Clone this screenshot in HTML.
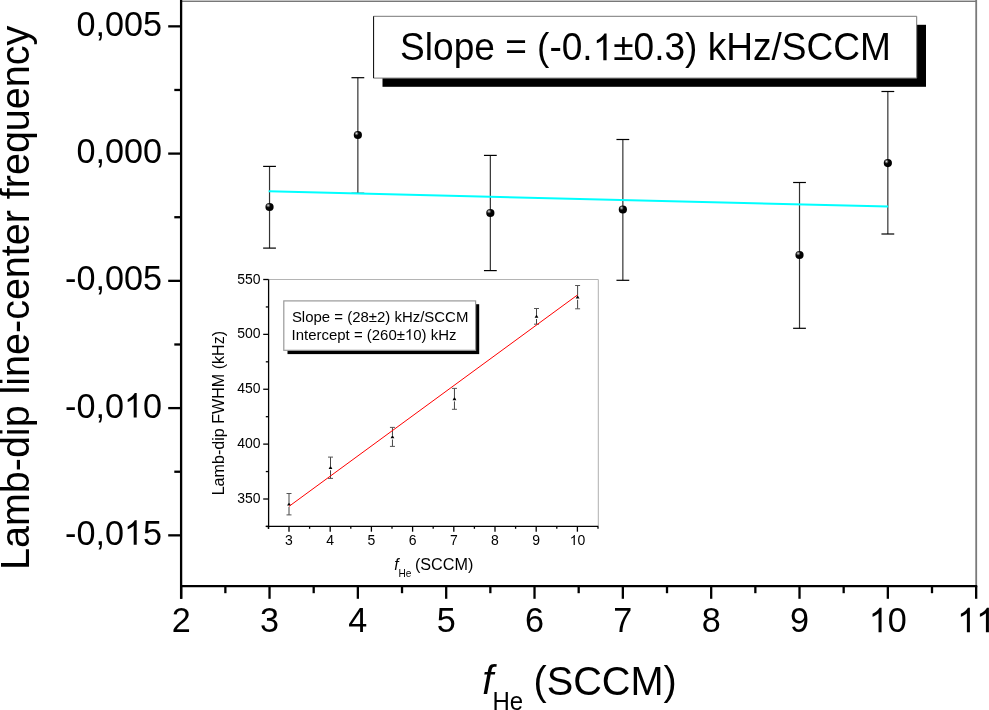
<!DOCTYPE html><html><head><meta charset="utf-8"><style>html,body{margin:0;padding:0;width:989px;height:710px;overflow:hidden;background:#fff;}svg{will-change:transform;} svg text{font-family:"Liberation Sans",sans-serif;font-kerning:none;font-variant-ligatures:none;}</style></head><body><svg width="989" height="710" viewBox="0 0 989 710" style="position:absolute;left:0;top:0" font-family='"Liberation Sans", sans-serif'>
<defs><radialGradient id="sph" cx="35%" cy="33%" r="60%" fx="33%" fy="30%"><stop offset="0" stop-color="#e8e8e8"/><stop offset="0.22" stop-color="#6a6a6a"/><stop offset="0.45" stop-color="#050505"/><stop offset="1" stop-color="#000"/></radialGradient></defs>
<rect x="0.00" y="0.00" width="989.00" height="710.00" fill="#fff" stroke="none" stroke-width="0"/>
<rect x="181.00" y="0.00" width="796.00" height="1.00" fill="#c4c4c4" stroke="none" stroke-width="0"/>
<rect x="181.00" y="1.00" width="796.00" height="1.00" fill="#787878" stroke="none" stroke-width="0"/>
<rect x="975.30" y="0.00" width="1.80" height="587.00" fill="#7a7a7a" stroke="none" stroke-width="0"/>
<line x1="269.53" y1="166.40" x2="269.53" y2="248.10" stroke="#333" stroke-width="1.2" />
<line x1="263.13" y1="166.40" x2="275.93" y2="166.40" stroke="#000" stroke-width="1.2" />
<line x1="263.13" y1="248.10" x2="275.93" y2="248.10" stroke="#000" stroke-width="1.2" />
<line x1="357.86" y1="77.70" x2="357.86" y2="193.30" stroke="#333" stroke-width="1.2" />
<line x1="351.46" y1="77.70" x2="364.26" y2="77.70" stroke="#000" stroke-width="1.2" />
<line x1="351.46" y1="193.30" x2="364.26" y2="193.30" stroke="#000" stroke-width="1.2" />
<line x1="490.35" y1="155.40" x2="490.35" y2="270.60" stroke="#333" stroke-width="1.2" />
<line x1="483.95" y1="155.40" x2="496.75" y2="155.40" stroke="#000" stroke-width="1.2" />
<line x1="483.95" y1="270.60" x2="496.75" y2="270.60" stroke="#000" stroke-width="1.2" />
<line x1="622.85" y1="139.50" x2="622.85" y2="280.30" stroke="#333" stroke-width="1.2" />
<line x1="616.45" y1="139.50" x2="629.25" y2="139.50" stroke="#000" stroke-width="1.2" />
<line x1="616.45" y1="280.30" x2="629.25" y2="280.30" stroke="#000" stroke-width="1.2" />
<line x1="799.51" y1="182.50" x2="799.51" y2="328.30" stroke="#333" stroke-width="1.2" />
<line x1="793.11" y1="182.50" x2="805.91" y2="182.50" stroke="#000" stroke-width="1.2" />
<line x1="793.11" y1="328.30" x2="805.91" y2="328.30" stroke="#000" stroke-width="1.2" />
<line x1="887.84" y1="91.50" x2="887.84" y2="234.00" stroke="#333" stroke-width="1.2" />
<line x1="881.44" y1="91.50" x2="894.24" y2="91.50" stroke="#000" stroke-width="1.2" />
<line x1="881.44" y1="234.00" x2="894.24" y2="234.00" stroke="#000" stroke-width="1.2" />
<circle cx="269.53" cy="207.00" r="4.1" fill="url(#sph)"/>
<circle cx="357.86" cy="135.00" r="4.1" fill="url(#sph)"/>
<circle cx="490.35" cy="213.00" r="4.1" fill="url(#sph)"/>
<circle cx="622.85" cy="209.50" r="4.1" fill="url(#sph)"/>
<circle cx="799.51" cy="255.00" r="4.1" fill="url(#sph)"/>
<circle cx="887.84" cy="163.10" r="4.1" fill="url(#sph)"/>
<line x1="268.60" y1="191.30" x2="888.20" y2="206.60" stroke="#00ffff" stroke-width="2.0" />
<line x1="181.10" y1="0.00" x2="181.10" y2="598.80" stroke="#000" stroke-width="2.3" />
<line x1="180.00" y1="586.10" x2="977.20" y2="586.10" stroke="#000" stroke-width="2.3" />
<line x1="168.20" y1="26.35" x2="181.00" y2="26.35" stroke="#000" stroke-width="2.3" />
<line x1="168.20" y1="153.60" x2="181.00" y2="153.60" stroke="#000" stroke-width="2.3" />
<line x1="168.20" y1="280.85" x2="181.00" y2="280.85" stroke="#000" stroke-width="2.3" />
<line x1="168.20" y1="408.10" x2="181.00" y2="408.10" stroke="#000" stroke-width="2.3" />
<line x1="168.20" y1="535.35" x2="181.00" y2="535.35" stroke="#000" stroke-width="2.3" />
<line x1="174.30" y1="89.97" x2="181.00" y2="89.97" stroke="#000" stroke-width="2.3" />
<line x1="174.30" y1="217.22" x2="181.00" y2="217.22" stroke="#000" stroke-width="2.3" />
<line x1="174.30" y1="344.48" x2="181.00" y2="344.48" stroke="#000" stroke-width="2.3" />
<line x1="174.30" y1="471.73" x2="181.00" y2="471.73" stroke="#000" stroke-width="2.3" />
<line x1="181.20" y1="586.00" x2="181.20" y2="598.80" stroke="#000" stroke-width="2.3" />
<line x1="269.53" y1="586.00" x2="269.53" y2="598.80" stroke="#000" stroke-width="2.3" />
<line x1="357.86" y1="586.00" x2="357.86" y2="598.80" stroke="#000" stroke-width="2.3" />
<line x1="446.19" y1="586.00" x2="446.19" y2="598.80" stroke="#000" stroke-width="2.3" />
<line x1="534.52" y1="586.00" x2="534.52" y2="598.80" stroke="#000" stroke-width="2.3" />
<line x1="622.85" y1="586.00" x2="622.85" y2="598.80" stroke="#000" stroke-width="2.3" />
<line x1="711.18" y1="586.00" x2="711.18" y2="598.80" stroke="#000" stroke-width="2.3" />
<line x1="799.51" y1="586.00" x2="799.51" y2="598.80" stroke="#000" stroke-width="2.3" />
<line x1="887.84" y1="586.00" x2="887.84" y2="598.80" stroke="#000" stroke-width="2.3" />
<line x1="976.17" y1="586.00" x2="976.17" y2="598.80" stroke="#000" stroke-width="2.3" />
<line x1="225.36" y1="586.00" x2="225.36" y2="593.20" stroke="#000" stroke-width="2.3" />
<line x1="313.69" y1="586.00" x2="313.69" y2="593.20" stroke="#000" stroke-width="2.3" />
<line x1="402.02" y1="586.00" x2="402.02" y2="593.20" stroke="#000" stroke-width="2.3" />
<line x1="490.35" y1="586.00" x2="490.35" y2="593.20" stroke="#000" stroke-width="2.3" />
<line x1="578.68" y1="586.00" x2="578.68" y2="593.20" stroke="#000" stroke-width="2.3" />
<line x1="667.01" y1="586.00" x2="667.01" y2="593.20" stroke="#000" stroke-width="2.3" />
<line x1="755.35" y1="586.00" x2="755.35" y2="593.20" stroke="#000" stroke-width="2.3" />
<line x1="843.67" y1="586.00" x2="843.67" y2="593.20" stroke="#000" stroke-width="2.3" />
<line x1="932.00" y1="586.00" x2="932.00" y2="593.20" stroke="#000" stroke-width="2.3" />
<text transform="translate(162.00,35.85) scale(1,1.03)" font-size="34.2" text-anchor="end" fill="#000" >0,005</text>
<text transform="translate(162.00,163.10) scale(1,1.03)" font-size="34.2" text-anchor="end" fill="#000" >0,000</text>
<text transform="translate(162.00,290.35) scale(1,1.03)" font-size="34.2" text-anchor="end" fill="#000" >-0,005</text>
<g transform="translate(162.00,417.60) scale(1,1.03)"><text font-size="34.2" text-anchor="end" fill="#000" >-0,0 0</text><path transform="translate(-38.041,0) scale(0.01670,-0.01621)" d="M763,0 L583,0 L583,1147 Q518,1085 412,1023 Q307,961 223,930 L223,1104 Q374,1175 486,1276 Q598,1377 645,1472 L763,1472 Z" fill="#000"/></g>
<g transform="translate(162.00,544.85) scale(1,1.03)"><text font-size="34.2" text-anchor="end" fill="#000" >-0,0 5</text><path transform="translate(-38.041,0) scale(0.01670,-0.01621)" d="M763,0 L583,0 L583,1147 Q518,1085 412,1023 Q307,961 223,930 L223,1104 Q374,1175 486,1276 Q598,1377 645,1472 L763,1472 Z" fill="#000"/></g>
<text transform="translate(181.20,632.30) scale(1,1.03)" font-size="34.2" text-anchor="middle" fill="#000" >2</text>
<text transform="translate(269.53,632.30) scale(1,1.03)" font-size="34.2" text-anchor="middle" fill="#000" >3</text>
<text transform="translate(357.86,632.30) scale(1,1.03)" font-size="34.2" text-anchor="middle" fill="#000" >4</text>
<text transform="translate(446.19,632.30) scale(1,1.03)" font-size="34.2" text-anchor="middle" fill="#000" >5</text>
<text transform="translate(534.52,632.30) scale(1,1.03)" font-size="34.2" text-anchor="middle" fill="#000" >6</text>
<text transform="translate(622.85,632.30) scale(1,1.03)" font-size="34.2" text-anchor="middle" fill="#000" >7</text>
<text transform="translate(711.18,632.30) scale(1,1.03)" font-size="34.2" text-anchor="middle" fill="#000" >8</text>
<text transform="translate(799.51,632.30) scale(1,1.03)" font-size="34.2" text-anchor="middle" fill="#000" >9</text>
<g transform="translate(887.84,632.30) scale(1,1.03)"><text font-size="34.2" text-anchor="middle" fill="#000" > 0</text><path transform="translate(-19.020,0) scale(0.01670,-0.01621)" d="M763,0 L583,0 L583,1147 Q518,1085 412,1023 Q307,961 223,930 L223,1104 Q374,1175 486,1276 Q598,1377 645,1472 L763,1472 Z" fill="#000"/></g>
<g transform="translate(976.17,632.30) scale(1,1.03)"><text font-size="34.2" text-anchor="middle" fill="#000" >  </text><path transform="translate(-19.020,0) scale(0.01670,-0.01621)" d="M763,0 L583,0 L583,1147 Q518,1085 412,1023 Q307,961 223,930 L223,1104 Q374,1175 486,1276 Q598,1377 645,1472 L763,1472 Z" fill="#000"/><path transform="translate(0.000,0) scale(0.01670,-0.01621)" d="M763,0 L583,0 L583,1147 Q518,1085 412,1023 Q307,961 223,930 L223,1104 Q374,1175 486,1276 Q598,1377 645,1472 L763,1472 Z" fill="#000"/></g>
<text transform="translate(29.10,570.00) rotate(-90) scale(1,1.02)" font-size="39.5" text-anchor="start" fill="#000" >Lamb-dip line-center frequency</text>
<text transform="translate(482.24,693.90)" font-size="40" text-anchor="start" font-style="italic" fill="#000" >f</text>
<text transform="translate(492.43,710.10) scale(1,1.04)" font-size="24" text-anchor="start" fill="#000" >He</text>
<text transform="translate(533.44,694.50) scale(1,1.04)" font-size="39.7" text-anchor="start" fill="#000" >(SCCM)</text>
<rect x="382.50" y="24.80" width="543.50" height="62.00" fill="#000" stroke="none" stroke-width="0"/>
<rect x="373.50" y="16.30" width="543.20" height="61.80" fill="#fff" stroke="none" stroke-width="0"/>
<line x1="373.50" y1="16.30" x2="916.70" y2="16.30" stroke="#777" stroke-width="1" />
<line x1="916.70" y1="16.30" x2="916.70" y2="78.10" stroke="#777" stroke-width="1" />
<line x1="373.50" y1="78.10" x2="916.70" y2="78.10" stroke="#777" stroke-width="1" />
<line x1="373.60" y1="16.30" x2="373.60" y2="78.10" stroke="#000" stroke-width="1" />
<g transform="translate(400.09,60.20) scale(1,1.04)"><text font-size="37.07" text-anchor="start" fill="#000" >Slope = (-0. ±0.3) kHz/SCCM</text><path transform="translate(192.663,0) scale(0.01810,-0.01740)" d="M763,0 L583,0 L583,1147 Q518,1085 412,1023 Q307,961 223,930 L223,1104 Q374,1175 486,1276 Q598,1377 645,1472 L763,1472 Z" fill="#000"/></g>
<rect x="268.60" y="279.50" width="329.60" height="246.90" fill="#fff" stroke="none" stroke-width="0"/>
<line x1="268.60" y1="279.50" x2="598.30" y2="279.50" stroke="#b4b4b4" stroke-width="1" />
<line x1="598.30" y1="279.50" x2="598.30" y2="526.40" stroke="#b0b0b0" stroke-width="1" />
<line x1="289.00" y1="493.50" x2="289.00" y2="502.70" stroke="#444" stroke-width="1" />
<line x1="289.00" y1="506.80" x2="289.00" y2="514.90" stroke="#444" stroke-width="1" />
<line x1="286.50" y1="493.50" x2="291.50" y2="493.50" stroke="#555" stroke-width="1" />
<line x1="286.50" y1="514.90" x2="291.50" y2="514.90" stroke="#555" stroke-width="1" />
<line x1="330.50" y1="457.10" x2="330.50" y2="466.20" stroke="#444" stroke-width="1" />
<line x1="330.50" y1="470.30" x2="330.50" y2="478.40" stroke="#444" stroke-width="1" />
<line x1="328.00" y1="457.10" x2="333.00" y2="457.10" stroke="#555" stroke-width="1" />
<line x1="328.00" y1="478.40" x2="333.00" y2="478.40" stroke="#555" stroke-width="1" />
<line x1="392.45" y1="427.40" x2="392.45" y2="435.40" stroke="#444" stroke-width="1" />
<line x1="392.45" y1="439.50" x2="392.45" y2="446.40" stroke="#444" stroke-width="1" />
<line x1="389.95" y1="427.40" x2="394.95" y2="427.40" stroke="#555" stroke-width="1" />
<line x1="389.95" y1="446.40" x2="394.95" y2="446.40" stroke="#555" stroke-width="1" />
<line x1="454.45" y1="388.40" x2="454.45" y2="397.35" stroke="#444" stroke-width="1" />
<line x1="454.45" y1="401.45" x2="454.45" y2="409.30" stroke="#444" stroke-width="1" />
<line x1="451.95" y1="388.40" x2="456.95" y2="388.40" stroke="#555" stroke-width="1" />
<line x1="451.95" y1="409.30" x2="456.95" y2="409.30" stroke="#555" stroke-width="1" />
<line x1="536.50" y1="308.50" x2="536.50" y2="314.90" stroke="#444" stroke-width="1" />
<line x1="536.50" y1="319.00" x2="536.50" y2="324.20" stroke="#444" stroke-width="1" />
<line x1="534.00" y1="308.50" x2="539.00" y2="308.50" stroke="#555" stroke-width="1" />
<line x1="534.00" y1="324.20" x2="539.00" y2="324.20" stroke="#555" stroke-width="1" />
<line x1="577.60" y1="285.50" x2="577.60" y2="295.70" stroke="#444" stroke-width="1" />
<line x1="577.60" y1="299.80" x2="577.60" y2="308.80" stroke="#444" stroke-width="1" />
<line x1="575.10" y1="285.50" x2="580.10" y2="285.50" stroke="#555" stroke-width="1" />
<line x1="575.10" y1="308.80" x2="580.10" y2="308.80" stroke="#555" stroke-width="1" />
<path d="M289.00,502.20 L290.90,505.50 L287.10,505.50 Z" fill="#000"/>
<path d="M330.50,465.70 L332.40,469.00 L328.60,469.00 Z" fill="#000"/>
<path d="M392.45,434.90 L394.35,438.20 L390.55,438.20 Z" fill="#000"/>
<path d="M454.45,396.85 L456.35,400.15 L452.55,400.15 Z" fill="#000"/>
<path d="M536.50,314.40 L538.40,317.70 L534.60,317.70 Z" fill="#000"/>
<path d="M577.60,295.20 L579.50,298.50 L575.70,298.50 Z" fill="#000"/>
<line x1="289.10" y1="506.30" x2="577.60" y2="294.90" stroke="#ff0000" stroke-width="1.0" />
<line x1="268.60" y1="279.50" x2="268.60" y2="528.80" stroke="#000" stroke-width="1.3" />
<line x1="265.80" y1="526.40" x2="598.30" y2="526.40" stroke="#000" stroke-width="1.3" />
<line x1="263.20" y1="279.50" x2="268.60" y2="279.50" stroke="#000" stroke-width="1.3" />
<line x1="263.20" y1="334.38" x2="268.60" y2="334.38" stroke="#000" stroke-width="1.3" />
<line x1="263.20" y1="389.25" x2="268.60" y2="389.25" stroke="#000" stroke-width="1.3" />
<line x1="263.20" y1="444.12" x2="268.60" y2="444.12" stroke="#000" stroke-width="1.3" />
<line x1="263.20" y1="499.00" x2="268.60" y2="499.00" stroke="#000" stroke-width="1.3" />
<line x1="265.80" y1="306.94" x2="268.60" y2="306.94" stroke="#000" stroke-width="1.3" />
<line x1="265.80" y1="361.81" x2="268.60" y2="361.81" stroke="#000" stroke-width="1.3" />
<line x1="265.80" y1="416.69" x2="268.60" y2="416.69" stroke="#000" stroke-width="1.3" />
<line x1="265.80" y1="471.56" x2="268.60" y2="471.56" stroke="#000" stroke-width="1.3" />
<line x1="265.80" y1="526.44" x2="268.60" y2="526.44" stroke="#000" stroke-width="1.3" />
<line x1="289.00" y1="526.40" x2="289.00" y2="531.70" stroke="#000" stroke-width="1.3" />
<line x1="330.20" y1="526.40" x2="330.20" y2="531.70" stroke="#000" stroke-width="1.3" />
<line x1="371.40" y1="526.40" x2="371.40" y2="531.70" stroke="#000" stroke-width="1.3" />
<line x1="412.60" y1="526.40" x2="412.60" y2="531.70" stroke="#000" stroke-width="1.3" />
<line x1="453.80" y1="526.40" x2="453.80" y2="531.70" stroke="#000" stroke-width="1.3" />
<line x1="495.00" y1="526.40" x2="495.00" y2="531.70" stroke="#000" stroke-width="1.3" />
<line x1="536.20" y1="526.40" x2="536.20" y2="531.70" stroke="#000" stroke-width="1.3" />
<line x1="577.40" y1="526.40" x2="577.40" y2="531.70" stroke="#000" stroke-width="1.3" />
<line x1="268.40" y1="526.40" x2="268.40" y2="528.80" stroke="#000" stroke-width="1.3" />
<line x1="309.60" y1="526.40" x2="309.60" y2="528.80" stroke="#000" stroke-width="1.3" />
<line x1="350.80" y1="526.40" x2="350.80" y2="528.80" stroke="#000" stroke-width="1.3" />
<line x1="392.00" y1="526.40" x2="392.00" y2="528.80" stroke="#000" stroke-width="1.3" />
<line x1="433.20" y1="526.40" x2="433.20" y2="528.80" stroke="#000" stroke-width="1.3" />
<line x1="474.40" y1="526.40" x2="474.40" y2="528.80" stroke="#000" stroke-width="1.3" />
<line x1="515.60" y1="526.40" x2="515.60" y2="528.80" stroke="#000" stroke-width="1.3" />
<line x1="556.80" y1="526.40" x2="556.80" y2="528.80" stroke="#000" stroke-width="1.3" />
<line x1="598.00" y1="526.40" x2="598.00" y2="528.80" stroke="#000" stroke-width="1.3" />
<text transform="translate(260.65,283.50) scale(1,1.04)" font-size="14" text-anchor="end" fill="#000" >550</text>
<text transform="translate(260.65,338.38) scale(1,1.04)" font-size="14" text-anchor="end" fill="#000" >500</text>
<text transform="translate(260.65,393.25) scale(1,1.04)" font-size="14" text-anchor="end" fill="#000" >450</text>
<text transform="translate(260.65,448.12) scale(1,1.04)" font-size="14" text-anchor="end" fill="#000" >400</text>
<text transform="translate(260.65,503.00) scale(1,1.04)" font-size="14" text-anchor="end" fill="#000" >350</text>
<text transform="translate(289.00,545.10) scale(1,1.04)" font-size="14" text-anchor="middle" fill="#000" >3</text>
<text transform="translate(330.20,545.10) scale(1,1.04)" font-size="14" text-anchor="middle" fill="#000" >4</text>
<text transform="translate(371.40,545.10) scale(1,1.04)" font-size="14" text-anchor="middle" fill="#000" >5</text>
<text transform="translate(412.60,545.10) scale(1,1.04)" font-size="14" text-anchor="middle" fill="#000" >6</text>
<text transform="translate(453.80,545.10) scale(1,1.04)" font-size="14" text-anchor="middle" fill="#000" >7</text>
<text transform="translate(495.00,545.10) scale(1,1.04)" font-size="14" text-anchor="middle" fill="#000" >8</text>
<text transform="translate(536.20,545.10) scale(1,1.04)" font-size="14" text-anchor="middle" fill="#000" >9</text>
<g transform="translate(577.40,545.10) scale(1,1.04)"><text font-size="14" text-anchor="middle" fill="#000" > 0</text><path transform="translate(-7.786,0) scale(0.00684,-0.00657)" d="M763,0 L583,0 L583,1147 Q518,1085 412,1023 Q307,961 223,930 L223,1104 Q374,1175 486,1276 Q598,1377 645,1472 L763,1472 Z" fill="#000"/></g>
<text transform="translate(223.80,495.32) rotate(-90) scale(1,1.04)" font-size="16.1" text-anchor="start" fill="#000" >Lamb-dip FWHM (kHz)</text>
<text transform="translate(394.37,569.90) scale(1,1.02)" font-size="15.6" text-anchor="start" font-style="italic" fill="#000" >f</text>
<text transform="translate(398.47,576.50) scale(1,1.04)" font-size="10.1" text-anchor="start" fill="#000" >He</text>
<text transform="translate(414.90,570.20) scale(1,1.04)" font-size="16.2" text-anchor="start" fill="#000" >(SCCM)</text>
<rect x="287.50" y="304.20" width="191.70" height="49.90" fill="#000" stroke="none" stroke-width="0"/>
<rect x="283.80" y="300.90" width="191.80" height="49.40" fill="#fff" stroke="none" stroke-width="0"/>
<rect x="283.8" y="300.9" width="191.8" height="49.4" fill="none" stroke="#999" stroke-width="1.2"/>
<text transform="translate(291.90,321.90) scale(1,1.04)" font-size="14.95" text-anchor="start" fill="#000" >Slope = (28±2) kHz/SCCM</text>
<g transform="translate(291.60,339.70) scale(1,1.04)"><text font-size="14.95" text-anchor="start" fill="#000" >Intercept = (260± 0) kHz</text><path transform="translate(113.337,0) scale(0.00730,-0.00702)" d="M763,0 L583,0 L583,1147 Q518,1085 412,1023 Q307,961 223,930 L223,1104 Q374,1175 486,1276 Q598,1377 645,1472 L763,1472 Z" fill="#000"/></g>
</svg></body></html>
